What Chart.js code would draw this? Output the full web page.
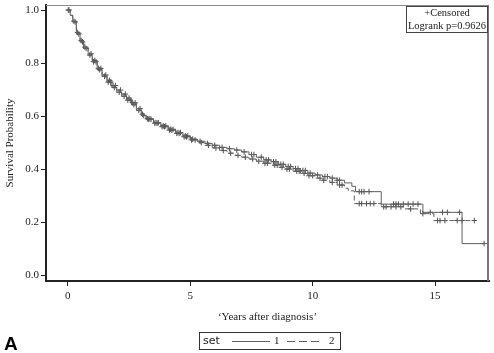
<!DOCTYPE html>
<html>
<head>
<meta charset="utf-8">
<script src="https://cdn.jsdelivr.net/npm/chart.js@4"></script>
<style>
  html, body { margin: 0; padding: 0; background: #fff; }
  #wrap { width: 494px; height: 353px; }
</style>
</head>
<body>
<div id="wrap"><canvas id="myChart"></canvas></div>
<script>
// Kaplan-Meier steps (time in years, survival)
const times1 = [0, 0.1, 0.2, 0.35, 0.5, 0.65, 0.83, 1.0, 1.2, 1.4, 1.6, 1.8, 2.0, 2.2, 2.4, 2.6, 2.8, 3.0, 3.2, 3.5, 3.8, 4.1, 4.4, 4.7, 5.0, 5.3, 5.6, 5.9, 6.2, 6.5, 6.8, 7.1, 7.4, 7.7, 8.0, 8.3, 8.6, 8.9, 9.2, 9.5, 9.8, 10.1, 10.4, 10.7, 11.0, 11.3, 11.6, 11.75, 12.8, 14.5, 16.1];
const surv1  = [1.0, 0.98, 0.955, 0.91, 0.88, 0.855, 0.83, 0.805, 0.775, 0.75, 0.728, 0.708, 0.69, 0.675, 0.66, 0.643, 0.622, 0.602, 0.588, 0.575, 0.563, 0.55, 0.538, 0.525, 0.513, 0.505, 0.497, 0.49, 0.482, 0.477, 0.472, 0.465, 0.455, 0.445, 0.435, 0.428, 0.418, 0.41, 0.402, 0.395, 0.385, 0.378, 0.372, 0.366, 0.358, 0.348, 0.335, 0.315, 0.268, 0.237, 0.119];
const times2 = [0, 0.1, 0.2, 0.35, 0.5, 0.65, 0.83, 1.0, 1.2, 1.4, 1.6, 1.8, 2.0, 2.2, 2.4, 2.6, 2.8, 3.0, 3.2, 3.5, 3.8, 4.1, 4.4, 4.7, 5.0, 5.3, 5.6, 5.9, 6.2, 6.5, 6.8, 7.1, 7.4, 7.7, 8.0, 8.3, 8.6, 8.9, 9.2, 9.5, 9.8, 10.1, 10.4, 10.7, 11.0, 11.3, 11.45, 11.7, 12.8, 13.7, 14.4, 14.95];
const surv2  = [1.0, 0.98, 0.958, 0.915, 0.885, 0.86, 0.835, 0.81, 0.78, 0.755, 0.735, 0.715, 0.698, 0.683, 0.668, 0.65, 0.628, 0.607, 0.59, 0.573, 0.56, 0.547, 0.535, 0.522, 0.51, 0.5, 0.49, 0.48, 0.47, 0.46, 0.452, 0.445, 0.438, 0.43, 0.422, 0.415, 0.407, 0.4, 0.392, 0.384, 0.375, 0.366, 0.358, 0.35, 0.34, 0.328, 0.318, 0.27, 0.258, 0.25, 0.232, 0.206];
const lastTime1 = 17.0;
const lastTime2 = 16.6;

// censored observation times
const censor1 = [0.02, 0.3, 0.45, 0.6, 0.75, 0.9, 1.05, 1.15, 1.3, 1.5, 1.65, 1.75, 1.9, 2.1, 2.3, 2.45, 2.55, 2.7, 2.9, 3.1, 3.3, 3.4, 3.6, 3.7, 3.9, 4.0, 4.2, 4.3, 4.5, 4.6, 4.8, 4.9, 5.1, 5.4, 5.7, 6.0, 6.3, 6.6, 6.9, 7.2, 7.5, 7.6, 7.9, 8.1, 8.2, 8.4, 8.5, 8.7, 8.8, 9.0, 9.1, 9.3, 9.4, 9.6, 9.7, 9.9, 10.2, 10.5, 10.6, 10.8, 11.0, 11.1, 11.9, 12.0, 12.1, 12.3, 13.3, 13.4, 13.5, 13.7, 13.9, 14.1, 14.3, 14.8, 15.3, 15.5, 16.0, 17.0];
const censor2 = [0.05, 0.25, 0.4, 0.55, 0.7, 0.95, 1.1, 1.25, 1.35, 1.55, 1.7, 1.85, 1.95, 2.15, 2.35, 2.5, 2.65, 2.75, 2.95, 3.05, 3.25, 3.35, 3.55, 3.65, 3.85, 3.95, 4.15, 4.25, 4.45, 4.55, 4.75, 4.85, 5.05, 5.2, 5.45, 5.75, 6.05, 6.35, 6.65, 6.95, 7.25, 7.55, 7.8, 8.05, 8.15, 8.45, 8.55, 8.75, 8.95, 9.05, 9.35, 9.45, 9.65, 9.85, 10.0, 10.3, 10.45, 10.8, 11.1, 11.2, 11.9, 12.0, 12.2, 12.35, 12.5, 12.9, 13.0, 13.2, 13.4, 13.6, 14.0, 14.5, 15.1, 15.2, 15.4, 15.9, 16.1, 16.6];

const xTicks = [0, 5, 10, 15];
const yTicks = [0.0, 0.2, 0.4, 0.6, 0.8, 1.0];
const seriesNames = ['1', '2'];
const pValueText = 'Logrank p=0.9626';

function stepPoints(ts, ss, tEnd) {
    var pts = ts.map(function (t, i) { return { x: t, y: ss[i] }; });
    pts.push({ x: tEnd, y: ss[ss.length - 1] });
    return pts;
}

function survAt(ts, ss, t) {
    var v = ss[0];
    for (var i = 0; i < ts.length; i++) {
        if (ts[i] <= t) v = ss[i];
    }
    return v;
}

function censorPoints(cs, ts, ss) {
    return cs.map(function (t) { return { x: t, y: survAt(ts, ss, t) }; });
}

const lineColor = '#606060';
const markColor = '#505050';
const serif = '"Liberation Serif", "Times New Roman", serif';

// frame, inset box, bottom legend and panel letter
const extras = {
    id: 'extras',
    afterDraw: function (chart) {
        var c = chart.ctx;
        var a = chart.chartArea;
        c.save();
        c.strokeStyle = '#8a8a8a';
        c.lineWidth = 1;
        c.beginPath();
        c.moveTo(a.left, a.top + 0.5);
        c.lineTo(a.right, a.top + 0.5);
        c.stroke();
        c.lineWidth = 2;
        c.strokeStyle = '#777';
        c.beginPath();
        c.moveTo(a.right - 1, a.top);
        c.lineTo(a.right - 1, a.bottom);
        c.stroke();

        // inset box
        c.lineWidth = 1;
        c.strokeStyle = '#444';
        c.strokeRect(406.5, 6.5, 81, 26);
        c.fillStyle = '#222';
        c.font = '10.5px ' + serif;
        c.textAlign = 'center';
        c.textBaseline = 'middle';
        c.fillText('+Censored', 447, 13);
        c.fillText(pValueText, 447, 26);

        // bottom legend
        c.strokeStyle = '#333';
        c.strokeRect(199.5, 332.5, 141, 17);
        c.textAlign = 'left';
        c.font = '11px "DejaVu Sans", sans-serif';
        c.fillText('set', 203, 341);
        c.strokeStyle = lineColor;
        c.beginPath();
        c.moveTo(232, 341.5);
        c.lineTo(270, 341.5);
        c.stroke();
        c.font = '11px ' + serif;
        c.fillText(seriesNames[0], 274, 341);
        c.setLineDash([8, 4]);
        c.beginPath();
        c.moveTo(287, 341.5);
        c.lineTo(319, 341.5);
        c.stroke();
        c.setLineDash([]);
        c.fillText(seriesNames[1], 329, 341);

        // panel letter
        c.fillStyle = '#000';
        c.font = 'bold 19px "Liberation Sans", Arial, sans-serif';
        c.textBaseline = 'alphabetic';
        c.fillText('A', 4, 350);
        c.restore();
    }
};

const ctx = document.getElementById('myChart');

new Chart(ctx, {
    type: 'scatter',
    data: {
        datasets: [{
            label: seriesNames[0],
            data: stepPoints(times1, surv1, lastTime1),
            showLine: true,
            stepped: 'before',
            borderColor: lineColor,
            borderWidth: 1,
            pointRadius: 0
        }, {
            label: seriesNames[1],
            data: stepPoints(times2, surv2, lastTime2),
            showLine: true,
            stepped: 'before',
            borderColor: lineColor,
            borderWidth: 1,
            borderDash: [5, 3],
            pointRadius: 0
        }, {
            label: 'censored 1',
            data: censorPoints(censor1, times1, surv1),
            pointStyle: 'cross',
            pointRadius: 2.8,
            borderColor: markColor,
            borderWidth: 1
        }, {
            label: 'censored 2',
            data: censorPoints(censor2, times2, surv2),
            pointStyle: 'cross',
            pointRadius: 2.8,
            borderColor: markColor,
            borderWidth: 1
        }]
    },
    options: {
        responsive: true,
        maintainAspectRatio: false,
        animation: false,
        layout: { padding: { top: 3, right: 3, bottom: 29, left: 0 } },
        plugins: {
            legend: { display: false },
            tooltip: { enabled: false }
        },
        scales: {
            x: {
                type: 'linear',
                min: -0.89,
                max: 17.2,
                afterBuildTicks: function (s) { s.ticks = xTicks.map(function (v) { return { value: v }; }); },
                afterFit: function (s) { s.height = 43; s.paddingLeft = 0; s.paddingRight = 0; },
                border: { display: true, color: '#222', width: 2 },
                grid: { drawOnChartArea: false, drawTicks: true, tickLength: 5, color: '#222' },
                ticks: { color: '#222', padding: 4, font: { family: serif, size: 11 }, callback: function (v) { return v; } },
                title: { display: true, text: '\u2018Years after diagnosis\u2019', color: '#222', font: { family: serif, size: 11 }, padding: 0 }
            },
            y: {
                min: -0.022,
                max: 1.019,
                afterBuildTicks: function (s) { s.ticks = yTicks.map(function (v) { return { value: v }; }); },
                afterFit: function (s) { s.width = 46; s.paddingTop = 0; s.paddingBottom = 0; },
                border: { display: true, color: '#222', width: 2 },
                grid: { drawOnChartArea: false, drawTicks: true, tickLength: 5, color: '#222' },
                ticks: { color: '#222', padding: 2, font: { family: serif, size: 11 }, callback: function (v) { return v.toFixed(1); } },
                title: { display: true, text: 'Survival Probability', color: '#222', font: { family: serif, size: 11 }, padding: 4 }
            }
        }
    },
    plugins: [extras]
});
</script>
</body>
</html>
